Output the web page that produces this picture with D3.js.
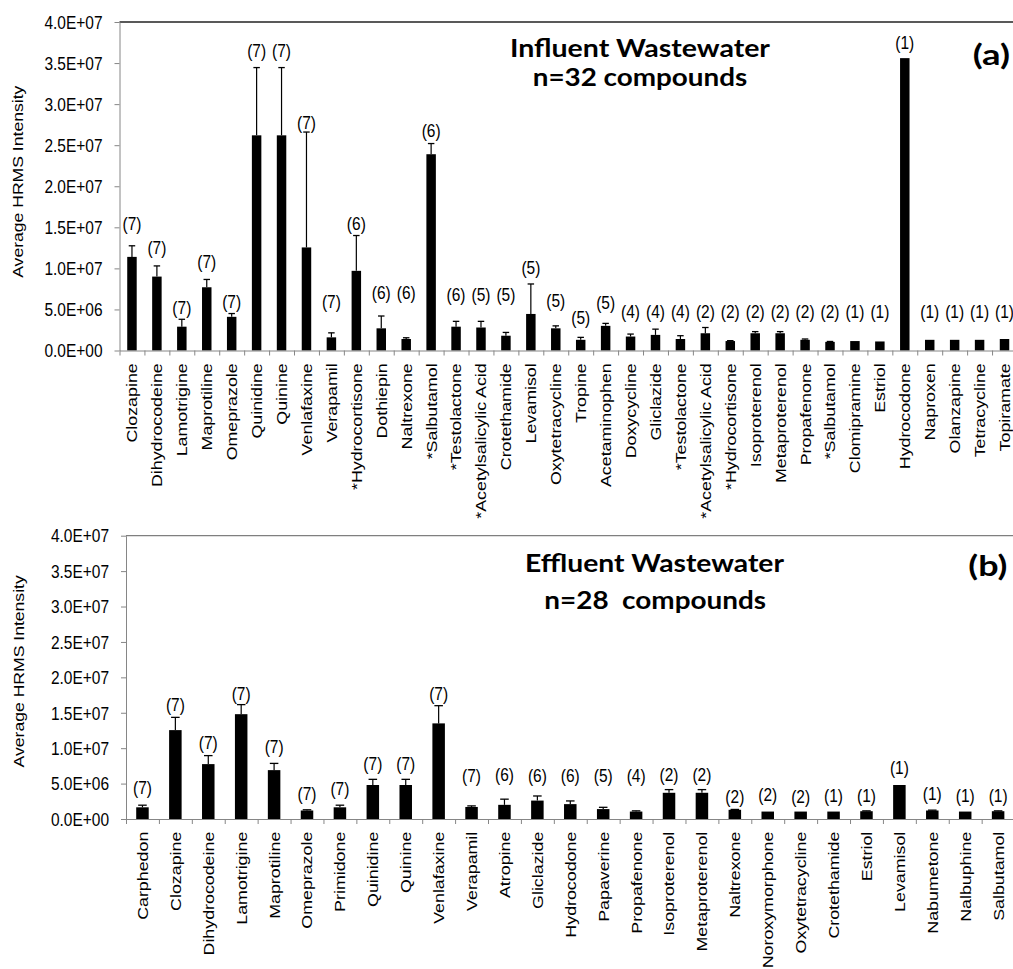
<!DOCTYPE html>
<html><head><meta charset="utf-8">
<script src="https://cdn.jsdelivr.net/npm/d3@7"></script>
<style>html,body{margin:0;padding:0;background:#fff;} svg{display:block;}</style>
</head><body><svg id="chart" width="1013" height="969"></svg>
<script>
// ---------- DATA ----------
const yTicks = [0, 5e6, 1e7, 1.5e7, 2e7, 2.5e7, 3e7, 3.5e7, 4e7];

const influentNames = ["Clozapine","Dihydrocodeine","Lamotrigine","Maprotiline","Omeprazole","Quinidine","Quinine","Venlafaxine","Verapamil","*Hydrocortisone","Dothiepin","Naltrexone","*Salbutamol","*Testolactone","*Acetylsalicylic Acid","Crotethamide","Levamisol","Oxytetracycline","Tropine","Acetaminophen","Doxycycline","Gliclazide","*Testolactone","*Acetylsalicylic Acid","*Hydrocortisone","Isoproterenol","Metaproterenol","Propafenone","*Salbutamol","Clomipramine","Estriol","Hydrocodone","Naproxen","Olanzapine","Tetracycline","Topiramate"];
const influentMeans = [11.4e6,9.0e6,2.9e6,7.7e6,4.1e6,26.2e6,26.2e6,12.55e6,1.6e6,9.7e6,2.7e6,1.4e6,23.9e6,2.9e6,2.8e6,1.8e6,4.45e6,2.7e6,1.3e6,3.0e6,1.7e6,1.9e6,1.4e6,2.1e6,1.15e6,2.1e6,2.1e6,1.3e6,1.05e6,1.15e6,1.1e6,35.6e6,1.3e6,1.3e6,1.3e6,1.4e6];
const influentErrTop = [12.75e6,10.3e6,3.8e6,8.65e6,4.5e6,34.45e6,34.45e6,26.6e6,2.15e6,14.0e6,4.2e6,1.55e6,25.2e6,3.55e6,3.55e6,2.2e6,8.1e6,3.0e6,1.6e6,3.3e6,2.0e6,2.6e6,1.8e6,2.8e6,1.2e6,2.3e6,2.3e6,1.4e6,1.1e6,1.15e6,1.1e6,35.6e6,1.3e6,1.3e6,1.3e6,1.4e6];
const influentCounts = [7,7,7,7,7,7,7,7,7,6,6,6,6,6,5,5,5,5,5,5,4,4,4,2,2,2,2,2,2,1,1,1,1,1,1,1];
const influentLabelAt = [15.4e6,12.55e6,5.25e6,10.8e6,5.9e6,36.5e6,36.5e6,27.75e6,5.9e6,15.4e6,7.05e6,7.05e6,26.75e6,6.8e6,6.8e6,6.8e6,10.1e6,6.05e6,4.0e6,5.85e6,4.7e6,4.7e6,4.7e6,4.7e6,4.7e6,4.7e6,4.7e6,4.7e6,4.7e6,4.7e6,4.7e6,37.5e6,4.7e6,4.7e6,4.7e6,4.7e6];

const effluentNames = ["Carphedon","Clozapine","Dihydrocodeine","Lamotrigine","Maprotiline","Omeprazole","Primidone","Quinidine","Quinine","Venlafaxine","Verapamil","Atropine","Gliclazide","Hydrocodone","Papaverine","Propafenone","Isoproterenol","Metaproterenol","Naltrexone","Noroxymorphone","Oxytetracycline","Crotethamide","Estriol","Levamisol","Nabumetone","Nalbuphine","Salbutamol"];
const effluentMeans = [1.65e6,12.55e6,7.75e6,14.8e6,6.9e6,1.2e6,1.65e6,4.8e6,4.8e6,13.5e6,1.7e6,2.0e6,2.6e6,2.1e6,1.4e6,1.05e6,3.7e6,3.7e6,1.3e6,1.05e6,1.05e6,1.05e6,1.1e6,4.8e6,1.2e6,1.05e6,1.1e6];
const effluentErrTop = [1.95e6,14.35e6,8.95e6,16.15e6,7.85e6,1.3e6,1.95e6,5.6e6,5.6e6,16.0e6,1.85e6,2.8e6,3.25e6,2.55e6,1.65e6,1.15e6,4.15e6,4.15e6,1.35e6,1.05e6,1.05e6,1.05e6,1.15e6,4.8e6,1.25e6,1.05e6,1.15e6];
const effluentCounts = [7,7,7,7,7,7,7,7,7,7,7,6,6,6,5,4,2,2,2,2,2,1,1,1,1,1,1];
const effluentLabelAt = [4.45e6,16.1e6,10.7e6,17.75e6,10.15e6,3.55e6,4.25e6,7.75e6,7.75e6,17.7e6,6.15e6,6.25e6,6.15e6,6.15e6,6.15e6,6.05e6,6.25e6,6.25e6,3.2e6,3.45e6,3.1e6,3.35e6,3.35e6,7.2e6,3.55e6,3.35e6,3.35e6];

const yTitle = "Average HRMS Intensity";

// ---------- DRAW ----------
const FONT = '"Liberation Sans", Arial, Helvetica, sans-serif';
const TFONT = 'Lato, "Open Sans", sans-serif';
const VS = 1.15;
const AXIS = '#868686';
const svg = d3.select('#chart');

function sci(v){
  if (v === 0) return '0.0E+00';
  const e = Math.floor(Math.log10(v) + 1e-9);
  const m = v / Math.pow(10, e);
  return m.toFixed(1) + 'E+' + String(e).padStart(2, '0');
}

function drawPanel(p){
  const n = p.names.length;
  const xEnd = p.x0 + n * p.step;
  const x = d3.scaleBand().domain(d3.range(n)).range([p.x0, xEnd]);
  const xb = d3.scaleLinear().domain([0, n]).range([p.x0, xEnd]);
  const y = d3.scaleLinear().domain([0, 4e7]).range([p.yBot, p.yTop]);
  const g = svg.append('g');
  const bw = x.bandwidth() * 0.38;
  const cap = x.bandwidth() * 0.26;
  const cx = i => x(i) + x.bandwidth() / 2;

  // top frame line
  g.append('line').attr('x1', p.x0).attr('x2', xEnd).attr('y1', p.yTop).attr('y2', p.yTop)
    .attr('stroke', p.frameColor).attr('stroke-width', 1.3);

  // bars
  g.selectAll('rect.bar').data(p.means).join('rect').attr('class', 'bar')
    .attr('x', (d, i) => cx(i) - bw / 2).attr('y', d => y(d))
    .attr('width', bw).attr('height', d => y(0) - y(d)).attr('fill', '#000');

  // error bars (upper only)
  const errIdx = d3.range(n).filter(i => p.err[i] > p.means[i] + 1);
  g.selectAll('line.err').data(errIdx).join('line').attr('class', 'err')
    .attr('x1', i => cx(i)).attr('x2', i => cx(i))
    .attr('y1', i => y(p.means[i])).attr('y2', i => y(p.err[i]))
    .attr('stroke', '#000').attr('stroke-width', 1.2);
  g.selectAll('line.cap').data(errIdx).join('line').attr('class', 'cap')
    .attr('x1', i => cx(i) - cap / 2).attr('x2', i => cx(i) + cap / 2)
    .attr('y1', i => y(p.err[i])).attr('y2', i => y(p.err[i]))
    .attr('stroke', '#000').attr('stroke-width', 1.3);

  // y axis
  const ya = g.append('g').attr('transform', `translate(${p.x0},0)`)
    .call(d3.axisLeft(y).tickValues(yTicks).tickFormat(sci).tickSize(5).tickSizeOuter(0).tickPadding(12));
  ya.select('.domain').attr('stroke', AXIS);
  ya.selectAll('.tick line').attr('stroke', AXIS);
  ya.selectAll('.tick text').attr('font-family', FONT).attr('font-size', 15.5).attr('fill', '#000')
    .attr('dy', '0.35em').attr('transform', `scale(1,${VS})`);

  // x axis boundary ticks
  const xa = g.append('g').attr('transform', `translate(0,${p.yBot})`)
    .call(d3.axisBottom(xb).tickValues(d3.range(n + 1)).tickFormat('').tickSize(5).tickSizeOuter(0));
  xa.select('.domain').attr('stroke', AXIS);
  xa.selectAll('.tick line').attr('stroke', AXIS);

  // x category labels
  const xl = g.append('g').attr('transform', `translate(0,${p.yBot})`)
    .call(d3.axisBottom(x).tickSize(0).tickFormat(i => p.names[i]));
  xl.select('.domain').remove();
  xl.selectAll('.tick text').attr('font-family', FONT).attr('font-size', 15.5).attr('fill', '#000')
    .attr('x', 0).attr('y', 0).attr('dy', '0.35em').attr('text-anchor', 'end')
    .attr('transform', `translate(0,${p.labelGap}) scale(1,${VS}) rotate(-90)`);

  // count labels
  g.selectAll('text.cnt').data(p.counts).join('text').attr('class', 'cnt')
    .attr('transform', (d, i) => `translate(${cx(i)},${y(p.labelAt[i])}) scale(1,${VS})`)
    .attr('text-anchor', 'middle').attr('dy', '0.35em')
    .attr('font-family', FONT).attr('font-size', 15.5).attr('fill', '#000')
    .text(d => `(${d})`);

  // y title
  g.append('text')
    .attr('transform', `translate(${p.yTitleX},${(p.yTop + p.yBot) / 2 + p.yTitleShift}) scale(1,${VS}) rotate(-90)`)
    .attr('text-anchor', 'middle').attr('dy', '0.35em')
    .attr('font-family', FONT).attr('font-size', 15.3).attr('fill', '#000')
    .text(yTitle);

  // titles
  p.titles.forEach(t => {
    g.append('text').attr('x', t.x).attr('y', t.y).attr('text-anchor', t.anchor)
      .attr('font-family', TFONT).attr('font-weight', 700).attr('font-size', t.size)
      .attr('textLength', t.len).attr('lengthAdjust', 'spacingAndGlyphs')
      .style('white-space', 'pre').attr('fill', '#000').text(t.text);
  });
}

drawPanel({
  names: influentNames, means: influentMeans, err: influentErrTop, counts: influentCounts, labelAt: influentLabelAt,
  x0: 119.5, step: 24.93, yTop: 22, yBot: 350.5, frameColor: '#222', labelGap: 12.8,
  yTitleX: 17.6, yTitleShift: -4.5,
  titles: [
    {text: 'Influent Wastewater', x: 640, y: 56.7, anchor: 'middle', size: 24.5, len: 260},
    {text: 'n=32 compounds', x: 640, y: 86, anchor: 'middle', size: 24.5, len: 214.6},
    {text: '(a)', x: 972.7, y: 65, anchor: 'start', size: 28, len: 37.3}
  ]
});

drawPanel({
  names: effluentNames, means: effluentMeans, err: effluentErrTop, counts: effluentCounts, labelAt: effluentLabelAt,
  x0: 126, step: 32.91, yTop: 535.7, yBot: 819, frameColor: '#7f7f7f', labelGap: 12.7,
  yTitleX: 18.5, yTitleShift: -6,
  titles: [
    {text: 'Effluent Wastewater', x: 654.5, y: 571.7, anchor: 'middle', size: 25, len: 259},
    {text: 'n=28  compounds', x: 655.2, y: 609.3, anchor: 'middle', size: 25, len: 221.7},
    {text: '(b)', x: 968.3, y: 576, anchor: 'start', size: 28, len: 39}
  ]
});
</script>
</body></html>
